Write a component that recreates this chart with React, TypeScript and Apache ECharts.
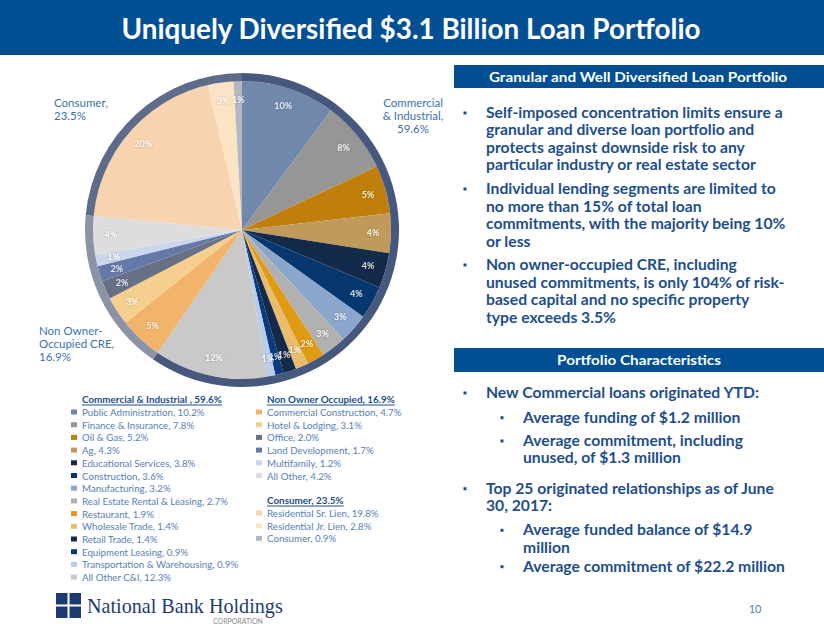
import React, { useEffect, useRef } from "react";
import * as echarts from "echarts";

// ---------------- DATA ----------------
const TITLE = "Uniquely Diversified $3.1 Billion Loan Portfolio";

const ciNames = [
  "Public Administration",
  "Finance & Insurance",
  "Oil & Gas",
  "Ag",
  "Educational Services",
  "Construction",
  "Manufacturing",
  "Real Estate Rental & Leasing",
  "Restaurant",
  "Wholesale Trade",
  "Retail Trade",
  "Equipment Leasing",
  "Transportation & Warehousing",
  "All Other C&I",
];
const ciValues = [10.2, 7.8, 5.2, 4.3, 3.8, 3.6, 3.2, 2.7, 1.9, 1.4, 1.4, 0.9, 0.9, 12.3];
const ciColors = [
  "#7088ab", "#969696", "#c07f0c", "#bf9a5b", "#142a4a", "#06386f", "#8ba6cc",
  "#b1b1b1", "#e09a14", "#e9bd6d", "#142a4a", "#0a3b7e", "#b9cde8", "#c9c9c9",
];

const creNames = ["Commercial Construction", "Hotel & Lodging", "Office", "Land Development", "Multifamily", "All Other"];
const creValues = [4.7, 3.1, 2.0, 1.7, 1.2, 4.2];
const creColors = ["#f2b36a", "#f6cf8f", "#687184", "#6579a9", "#c9d6ec", "#dddddd"];

const conNames = ["Residential Sr. Lien", "Residential Jr. Lien", "Consumer"];
const conValues = [19.8, 2.8, 0.9];
const conColors = ["#f7d4af", "#fbe4c4", "#b3b7c1"];

const groupHeaders = ["Commercial & Industrial , 59.6%", "Non Owner Occupied, 16.9%", "Consumer, 23.5%"];
const groupTotals = [59.6, 16.9, 23.5];
const groupRingColors = ["#47587e", "#8b93a6", "#5e6c8a"];
const calloutCI = "Commercial\n& Industrial,\n59.6%";
const calloutCRE = "Non Owner-\nOccupied CRE,\n16.9%";
const calloutCON = "Consumer,\n23.5%";

const panel1Title = "Granular and Well Diversified Loan Portfolio";
const panel1Lines = [
  "Self-imposed concentration limits ensure a",
  "granular and diverse loan portfolio and",
  "protects against downside risk to any",
  "particular industry or real estate sector",
  "Individual lending segments are limited to",
  "no more than 15% of total loan",
  "commitments, with the majority being 10%",
  "or less",
  "Non owner-occupied CRE, including",
  "unused commitments, is only 104% of risk-",
  "based capital and no specific property",
  "type exceeds 3.5%",
];
const panel2Title = "Portfolio Characteristics";
const panel2Lines = [
  "New Commercial loans originated YTD:",
  "Average funding of $1.2 million",
  "Average commitment, including",
  "unused, of $1.3 million",
  "Top 25 originated relationships as of June",
  "30, 2017:",
  "Average funded balance of $14.9",
  "million",
  "Average commitment of $22.2 million",
];
const logoText = "National Bank Holdings";
const logoSub = "CORPORATION";
const pageNumber = "10";

// ---------------- LAYOUT ----------------
const W = 824;
const H = 637;
const BLUE = "#024f93";
const TEXT_BLUE = "#1d4e8c";
const LEGEND_BLUE = "#5680b7";
const CALLOUT_BLUE = "#3a72b0";
const FONT = "Lato, 'Open Sans', sans-serif";
const PIE_CENTER = [242, 230];
const PIE_R = 149;
const RING_R = 157;
const LABEL_R = 131;

// [lineIndex, y, level, hasBullet]
const p1Layout: [number, number, number, boolean][] = [
  [0, 112, 1, true], [1, 129.5, 1, false], [2, 147, 1, false], [3, 164.5, 1, false],
  [4, 188, 1, true], [5, 205.7, 1, false], [6, 223.3, 1, false], [7, 241, 1, false],
  [8, 264, 1, true], [9, 281.7, 1, false], [10, 299.3, 1, false], [11, 317, 1, false],
];
const p2Layout: [number, number, number, boolean][] = [
  [0, 392, 1, true], [1, 416.7, 2, true], [2, 440, 2, true], [3, 457.3, 2, false],
  [4, 487.7, 1, true], [5, 505, 1, false], [6, 529.3, 2, true], [7, 546.7, 2, false],
  [8, 565.7, 2, true],
];

let ctx: CanvasRenderingContext2D | null = null;
function measure(text: string, font: string): number {
  if (!ctx) ctx = document.createElement("canvas").getContext("2d");
  if (!ctx) return text.length * 7;
  ctx.font = font;
  return ctx.measureText(text).width;
}
function fit(text: string, font: string, target: number): number {
  const w = measure(text, font);
  return w > 0 ? target / w : 1;
}

function buildOption() {
  const valueMap: Record<string, number> = {};
  const allNames = [...ciNames, ...creNames, ...conNames];
  const allValues = [...ciValues, ...creValues, ...conValues];
  const allColors = [...ciColors, ...creColors, ...conColors];
  allNames.forEach((n, i) => (valueMap[n] = allValues[i]));
  const total = allValues.reduce((a, b) => a + b, 0);

  const pieData = allNames.map((n, i) => ({ name: n, value: allValues[i], itemStyle: { color: allColors[i] } }));

  // label points on a polar system: [radius, mid-angle in cumulative value units]
  let acc = 0;
  const labelPoints = allValues.map((v) => {
    const mid = acc + v / 2;
    acc += v;
    return { value: [LABEL_R, mid], pct: v };
  });

  const legendFont = `10px ${FONT}`;
  const legendSize = 10 * fit("Public Administration, 10.2%", legendFont, 123);
  const headerFontBase = `bold 10px ${FONT}`;
  const headerSize = 10 * fit(groupHeaders[0], headerFontBase, 140);
  const headerFont = `bold ${headerSize}px ${FONT}`;

  const legendCommon = {
    orient: "vertical",
    itemWidth: 6,
    itemHeight: 5,
    itemGap: 2.7,
    icon: "rect",
    padding: 0,
    selectedMode: false,
    textStyle: { fontSize: legendSize, color: LEGEND_BLUE, fontFamily: FONT, lineHeight: 10 },
    formatter: (name: string) => `${name}, ${valueMap[name].toFixed(1)}%`,
  };

  const elements: any[] = [];
  // header band
  elements.push({ type: "rect", shape: { x: 0, y: 0, width: W, height: 55 }, style: { fill: BLUE }, silent: true });
  const titleFont = `bold 28px ${FONT}`;
  elements.push({
    type: "text", x: 411, y: 28, scaleX: fit(TITLE, titleFont, 580), silent: true,
    style: { text: TITLE, font: titleFont, fill: "#ffffff", textAlign: "center", textVerticalAlign: "middle" },
  });

  // panel bars
  const barFont = `bold 14px ${FONT}`;
  elements.push({ type: "rect", shape: { x: 454, y: 65, width: W - 454, height: 23 }, style: { fill: BLUE }, silent: true });
  elements.push({
    type: "text", x: 638, y: 76.5, scaleX: Math.min(1.1, fit(panel1Title, barFont, 299)), silent: true,
    style: { text: panel1Title, font: barFont, fill: "#ffffff", textAlign: "center", textVerticalAlign: "middle" },
  });
  elements.push({ type: "rect", shape: { x: 454, y: 348, width: W - 454, height: 24 }, style: { fill: BLUE }, silent: true });
  elements.push({
    type: "text", x: 639, y: 360, scaleX: Math.min(1.1, fit(panel2Title, barFont, 164)), silent: true,
    style: { text: panel2Title, font: barFont, fill: "#ffffff", textAlign: "center", textVerticalAlign: "middle" },
  });

  // body text
  const bodyFont = `bold 15px ${FONT}`;
  const bodyScale = fit(panel1Lines[0], bodyFont, 297);
  const addLines = (lines: string[], layout: [number, number, number, boolean][]) => {
    layout.forEach(([idx, y, level, bullet]) => {
      const tx = level === 1 ? 486 : 523;
      const bx = level === 1 ? 465 : 502;
      elements.push({
        type: "text", x: tx, y, scaleX: bodyScale, silent: true,
        style: { text: lines[idx], font: bodyFont, fill: TEXT_BLUE, textAlign: "left", textVerticalAlign: "middle" },
      });
      if (bullet) {
        elements.push({ type: "rect", shape: { x: bx - 1.5, y: y - 0.5, width: 3, height: 3 }, style: { fill: TEXT_BLUE }, silent: true });
      }
    });
  };
  addLines(panel1Lines, p1Layout);
  addLines(panel2Lines, p2Layout);

  // legend headers with underline
  const headerPos: [number, number][] = [[82, 399], [267, 399], [267, 500]];
  groupHeaders.forEach((t, i) => {
    const [x, y] = headerPos[i];
    const w = measure(t, headerFont);
    elements.push({
      type: "text", x, y, silent: true,
      style: { text: t, font: headerFont, fill: TEXT_BLUE, textAlign: "left", textVerticalAlign: "middle" },
    });
    elements.push({
      type: "line", silent: true,
      shape: { x1: x, y1: y + 6, x2: x + w, y2: y + 6 },
      style: { stroke: TEXT_BLUE, lineWidth: 1 },
    });
  });

  // pie callouts
  const calloutFont = `11.5px ${FONT}`;
  elements.push({
    type: "text", x: 413, y: 96, silent: true,
    style: { text: calloutCI, font: calloutFont, fill: CALLOUT_BLUE, textAlign: "center", textVerticalAlign: "top", lineHeight: 13 },
  });
  elements.push({
    type: "text", x: 54, y: 96, silent: true,
    style: { text: calloutCON, font: calloutFont, fill: CALLOUT_BLUE, textAlign: "left", textVerticalAlign: "top", lineHeight: 13 },
  });
  elements.push({
    type: "text", x: 39, y: 324, silent: true,
    style: { text: calloutCRE, font: calloutFont, fill: CALLOUT_BLUE, textAlign: "left", textVerticalAlign: "top", lineHeight: 13 },
  });

  // logo
  const LOGO = "#1d3b73";
  const sq = 11.5;
  [[56, 593], [56 + sq + 2, 593], [56, 593 + sq + 2], [56 + sq + 2, 593 + sq + 2]].forEach(([x, y]) => {
    elements.push({ type: "rect", shape: { x, y, width: sq, height: sq }, style: { fill: LOGO }, silent: true });
  });
  const logoFont = `22px 'Liberation Serif', serif`;
  elements.push({
    type: "text", x: 87, y: 606, scaleX: fit(logoText, logoFont, 196), silent: true,
    style: { text: logoText, font: logoFont, fill: LOGO, textAlign: "left", textVerticalAlign: "middle" },
  });
  const subFont = `7px ${FONT}`;
  elements.push({
    type: "text", x: 213, y: 621, scaleX: fit(logoSub, subFont, 50), silent: true,
    style: { text: logoSub, font: subFont, fill: "#8a8a8a", textAlign: "left", textVerticalAlign: "middle" },
  });
  elements.push({
    type: "text", x: 755, y: 608, silent: true,
    style: { text: pageNumber, font: `11px ${FONT}`, fill: LEGEND_BLUE, textAlign: "center", textVerticalAlign: "middle" },
  });

  return {
    animation: false,
    backgroundColor: "#ffffff",
    legend: [
      { ...legendCommon, data: ciNames, left: 71, top: 407 },
      { ...legendCommon, data: creNames, left: 256, top: 407 },
      { ...legendCommon, data: conNames, left: 256, top: 508 },
    ],
    polar: { center: PIE_CENTER, radius: PIE_R },
    angleAxis: {
      type: "value", min: 0, max: total, startAngle: 90, clockwise: true, show: false,
    },
    radiusAxis: { type: "value", min: 0, max: PIE_R, show: false },
    series: [
      {
        type: "pie",
        name: "Loans",
        center: PIE_CENTER,
        radius: [0, PIE_R],
        startAngle: 90,
        clockwise: true,
        silent: true,
        label: { show: false },
        labelLine: { show: false },
        emphasis: { disabled: true },
        data: pieData,
        z: 1,
      },
      {
        type: "pie",
        name: "Groups",
        center: PIE_CENTER,
        radius: [PIE_R, RING_R],
        startAngle: 90,
        clockwise: true,
        silent: true,
        label: { show: false },
        labelLine: { show: false },
        emphasis: { disabled: true },
        data: groupTotals.map((v, i) => ({ name: `group-${i}`, value: v, itemStyle: { color: groupRingColors[i] } })),
        z: 1,
      },
      {
        type: "scatter",
        name: "Slice labels",
        coordinateSystem: "polar",
        symbolSize: 0,
        silent: true,
        z: 5,
        label: {
          show: true,
          position: "inside",
          formatter: (p: any) => `${Math.round(p.data.pct)}%`,
          color: "#ffffff",
          fontSize: 9,
          fontWeight: "bold",
          fontFamily: FONT,
          textShadowColor: "rgba(0,0,0,0.35)",
          textShadowBlur: 2,
        },
        emphasis: { disabled: true },
        data: labelPoints,
      },
    ],
    graphic: { elements },
  };
}

export default function App() {
  const ref = useRef<HTMLDivElement>(null);
  useEffect(() => {
    document.body.style.margin = "0";
    if (!ref.current) return;
    const chart = echarts.init(ref.current, null, { renderer: "svg", width: W, height: H });
    chart.setOption(buildOption() as any);
    return () => chart.dispose();
  }, []);
  return (
    <div
      ref={ref}
      style={{ position: "absolute", left: 0, top: 0, width: W, height: H, background: "#ffffff" }}
    />
  );
}
